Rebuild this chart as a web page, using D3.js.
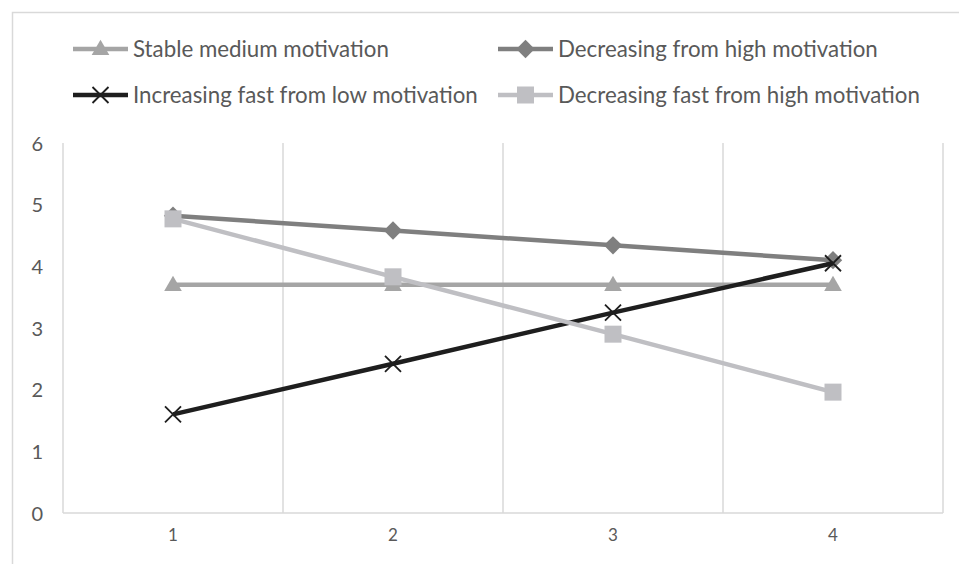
<!DOCTYPE html>
<html>
<head>
<meta charset="utf-8">
<script src="https://cdn.jsdelivr.net/npm/d3@7"></script>
<style>
  html, body { margin: 0; padding: 0; background: #fff; }
  svg { display: block; }
  text { font-family: Lato, "Open Sans", sans-serif; fill: #595959; }
</style>
</head>
<body>
<svg id="chart" width="959" height="564"></svg>
<script>
// Time points on the x axis
const categories = ["1", "2", "3", "4"];
const yTicks = [0, 1, 2, 3, 4, 5, 6];

// Motivation trajectories
const stableMedium = [3.7, 3.7, 3.7, 3.7];
const decreasingHigh = [4.82, 4.58, 4.34, 4.1];
const increasingFastLow = [1.6, 2.42, 3.25, 4.05];
const decreasingFastHigh = [4.77, 3.83, 2.9, 1.96];

const series = [
  { name: "Stable medium motivation", values: stableMedium, color: "#a5a5a5", marker: "triangle" },
  { name: "Decreasing from high motivation", values: decreasingHigh, color: "#7f7f7f", marker: "diamond" },
  { name: "Increasing fast from low motivation", values: increasingFastLow, color: "#1e1e1e", marker: "cross" },
  { name: "Decreasing fast from high motivation", values: decreasingFastHigh, color: "#bfbfc3", marker: "square" }
];

const svg = d3.select("#chart");
const W = 959, H = 564;
const plot = { left: 63, right: 943, top: 143, bottom: 513 };

// outer chart frame (extends past the window on the right and bottom)
svg.append("rect")
  .attr("x", 12.5).attr("y", 12.5)
  .attr("width", W).attr("height", H)
  .attr("fill", "none").attr("stroke", "#d9d9d9").attr("stroke-width", 1.5);

const x = d3.scaleBand().domain(categories).range([plot.left, plot.right]).padding(0);
const y = d3.scaleLinear().domain([0, 6]).range([plot.bottom, plot.top]);

// vertical gridlines at band boundaries
const gridX = categories.map(c => x(c) + x.bandwidth());
svg.append("g").selectAll("line").data(gridX).join("line")
  .attr("x1", d => d).attr("x2", d => d)
  .attr("y1", plot.top).attr("y2", plot.bottom)
  .attr("stroke", "#d9d9d9").attr("stroke-width", 1.5);

// y axis line and x baseline
svg.append("line")
  .attr("x1", plot.left).attr("x2", plot.left)
  .attr("y1", plot.top).attr("y2", plot.bottom)
  .attr("stroke", "#d9d9d9").attr("stroke-width", 1.5);
svg.append("line")
  .attr("x1", plot.left).attr("x2", plot.right)
  .attr("y1", plot.bottom).attr("y2", plot.bottom)
  .attr("stroke", "#d9d9d9").attr("stroke-width", 1.5);

// y tick labels
const yAxis = d3.axisLeft(y).tickValues(yTicks).tickSize(0).tickPadding(0).tickFormat(d3.format("d"));
const gy = svg.append("g").attr("transform", `translate(${plot.left - 20},0)`).call(yAxis);
gy.select(".domain").remove();
gy.selectAll("text").attr("font-size", 20).attr("font-family", "Lato, sans-serif").attr("fill", "#595959").attr("dy", "0.35em");

// x tick labels
const xAxis = d3.axisBottom(x).tickSize(0).tickPadding(0);
const gx = svg.append("g").attr("transform", `translate(0,${plot.bottom + 16})`).call(xAxis);
gx.select(".domain").remove();
gx.selectAll("text").attr("font-size", 17).attr("font-family", "Lato, sans-serif").attr("fill", "#595959").attr("dy", "0.71em");

const line = d3.line().x((d, i) => x(categories[i]) + x.bandwidth() / 2).y(d => y(d));

function drawMarker(g, type, cx, cy, color, scale) {
  const s = scale || 1;
  if (type === "triangle") {
    g.append("path").attr("d", d3.symbol(d3.symbolTriangle, 135 * s * s)())
      .attr("transform", `translate(${cx},${cy + 1})`).attr("fill", color);
  } else if (type === "diamond") {
    g.append("rect").attr("x", -6.5 * s).attr("y", -6.5 * s).attr("width", 13 * s).attr("height", 13 * s)
      .attr("transform", `translate(${cx},${cy}) rotate(45)`).attr("fill", color);
  } else if (type === "square") {
    g.append("rect").attr("x", cx - 8.5 * s).attr("y", cy - 8.5 * s).attr("width", 17 * s).attr("height", 17 * s)
      .attr("fill", color);
  } else if (type === "cross") {
    const r = 8 * s;
    g.append("path").attr("d", `M${cx - r},${cy - r}L${cx + r},${cy + r}M${cx - r},${cy + r}L${cx + r},${cy - r}`)
      .attr("stroke", color).attr("stroke-width", 1.8).attr("fill", "none");
  }
}

// series lines and markers
series.forEach(s => {
  const g = svg.append("g");
  g.append("path").datum(s.values).attr("d", line)
    .attr("fill", "none").attr("stroke", s.color).attr("stroke-width", 4.5).attr("stroke-linejoin", "round");
  s.values.forEach((v, i) => drawMarker(g, s.marker, x(categories[i]) + x.bandwidth() / 2, y(v), s.color));
});

// legend
const legendPos = [
  { x: 73, y: 49 }, { x: 498, y: 49 },
  { x: 73, y: 95 }, { x: 498, y: 95 }
];
series.forEach((s, i) => {
  const p = legendPos[i];
  const g = svg.append("g");
  g.append("line").attr("x1", p.x).attr("x2", p.x + 55).attr("y1", p.y).attr("y2", p.y)
    .attr("stroke", s.color).attr("stroke-width", 4.5);
  drawMarker(g, s.marker, p.x + 27.5, p.y, s.color);
  g.append("text").attr("x", p.x + 60).attr("y", p.y).attr("dy", "0.35em")
    .attr("font-size", 22.3).text(s.name);
});
</script>
</body>
</html>
